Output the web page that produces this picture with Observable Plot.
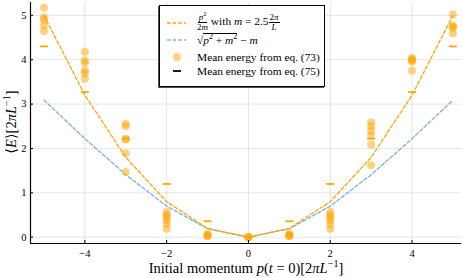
<!DOCTYPE html>
<html>
<head>
<meta charset="utf-8">
<script src="https://cdn.jsdelivr.net/npm/d3@7"></script>
<script src="https://cdn.jsdelivr.net/npm/@observablehq/plot@0.6"></script>
<style>
  body { margin: 0; background: #fff; }
  #wrap { position: relative; width: 463px; height: 278px; font-family: "Liberation Serif", "DejaVu Serif", serif; }
  #wrap svg { display: block; }
  .ylab { position: absolute; left: 11px; top: 122px; transform: translate(-50%, -50%) rotate(-90deg); font-size: 14.5px; white-space: nowrap; }
  .xlab { position: absolute; left: 246px; top: 268px; transform: translate(-50%, -50%); font-size: 14.5px; white-space: nowrap; }
  #legend { position: absolute; left: 159px; top: 5px; width: 166px; height: 82px; box-sizing: border-box; border: 1px solid #000; background: #fff; box-shadow: -1px 1px 0 #555; font-size: 11.4px; }
  .row { position: absolute; left: 0; display: flex; align-items: center; white-space: nowrap; }
  .row svg { margin-left: 7px; margin-right: 11px; }
  .frac { display: inline-flex; flex-direction: column; align-items: center; vertical-align: middle; font-size: 9px; line-height: 9px; }
  .frac .num { border-bottom: 0.7px solid #000; padding: 0 1px; }
  sup { font-size: 0.7em; line-height: 0; }
</style>
</head>
<body>
<div id="wrap"></div>
<script>
// ---- data ----
const momenta = [-5, -4, -3, -2, -1, 0, 1, 2, 3, 4, 5];
const nonRelEnergy = [5, 3.2, 1.8, 0.8, 0.2, 0, 0.2, 0.8, 1.8, 3.2, 5];
const relEnergy = [3.09, 2.22, 1.41, 0.70, 0.19, 0, 0.19, 0.70, 1.41, 2.22, 3.09];
const eq75Energy = [4.30, 3.27, 2.22, 1.20, 0.36, 0, 0.36, 1.20, 2.22, 3.27, 4.30];
const eq73Energy = [
  [5.17, 4.95, 4.90, 4.78, 4.65],
  [4.18, 3.98, 3.93, 3.76, 3.70, 3.57],
  [2.55, 2.50, 2.22, 2.20, 1.89, 1.47],
  [0.57, 0.50, 0.45, 0.38, 0.30, 0.19],
  [0.08, 0.05, 0.03, 0.02],
  [0.01, 0.0, 0.0],
  [0.08, 0.05, 0.03, 0.02],
  [0.57, 0.50, 0.45, 0.38, 0.30, 0.19],
  [2.59, 2.50, 2.40, 2.30, 2.09, 1.62],
  [4.04, 4.01, 3.98, 3.96, 3.75],
  [5.02, 4.77, 4.74, 4.72, 4.59]
];
const xTicks = [-4, -2, 0, 2, 4];
const yTicks = [0, 1, 2, 3, 4, 5];
const xDomain = [-5.33, 5.21];
const yDomain = [-0.142, 5.29];

const orange = "#FFA500";
const blue = "#7ab2dc";

const lineRows = momenta.map((p, i) => ({p, nonrel: nonRelEnergy[i], rel: relEnergy[i], eq75: eq75Energy[i]}));
const pointRows = momenta.flatMap((p, i) => eq73Energy[i].map(e => ({p, e})));

const dashSymbol = {
  draw(context, size) {
    const w = Math.sqrt(size) / 2;
    context.moveTo(-w, 0);
    context.lineTo(w, 0);
  }
};

const chart = Plot.plot({
  width: 463,
  height: 278,
  marginLeft: 30,
  marginRight: 2,
  marginTop: 2,
  marginBottom: 35,
  style: {fontFamily: "'Liberation Serif', 'DejaVu Serif', serif", fontSize: "10.5px", color: "#000", background: "#fff"},
  x: {domain: xDomain},
  y: {domain: yDomain},
  marks: [
    Plot.gridX(xTicks, {stroke: "#000", strokeOpacity: 0.1}),
    Plot.gridY(yTicks, {stroke: "#000", strokeOpacity: 0.1}),
    Plot.line(lineRows, {x: "p", y: "rel", stroke: blue, strokeWidth: 1.3, strokeDasharray: "3.5,2.2"}),
    Plot.line(lineRows, {x: "p", y: "nonrel", stroke: orange, strokeWidth: 1.3, strokeDasharray: "3.5,2.2"}),
    Plot.dot(pointRows, {x: "p", y: "e", r: 4, fill: orange, fillOpacity: 0.5, stroke: "none"}),
    Plot.dot(lineRows, {x: "p", y: "eq75", r: 4.5, symbol: dashSymbol, stroke: orange, strokeWidth: 1.8, fill: "none"}),
    Plot.ruleX([xDomain[0]], {stroke: "#000", strokeWidth: 1.2}),
    Plot.ruleY([yDomain[0]], {stroke: "#000", strokeWidth: 1.2}),
    Plot.axisX(xTicks, {tickSize: -3, tickPadding: 9, label: null, stroke: "#000"}),
    Plot.axisY(yTicks, {tickSize: -3, tickPadding: 7, label: null, stroke: "#000"})
  ]
});

const wrap = document.getElementById("wrap");
wrap.appendChild(chart);

const ylab = document.createElement("div");
ylab.className = "ylab";
ylab.innerHTML = "⟨<i>E</i>⟩[2<i>πL</i><sup>−1</sup>]";
wrap.appendChild(ylab);

const xlab = document.createElement("div");
xlab.className = "xlab";
xlab.innerHTML = "Initial momentum <i>p</i>(<i>t</i> = 0)[2<i>πL</i><sup>−1</sup>]";
wrap.appendChild(xlab);

const legend = document.createElement("div");
legend.id = "legend";
legend.innerHTML = `
  <div class="row" style="top:7px;">
    <svg width="19" height="6"><line x1="0" y1="3" x2="19" y2="3" stroke="${orange}" stroke-width="1.3" stroke-dasharray="3.5,2.2"/></svg>
    <span><span class="frac"><span class="num"><i>p</i><sup>2</sup></span><span>2<i>m</i></span></span> with <i>m</i> = 2.5<span class="frac"><span class="num">2<i>π</i></span><span><i>L</i></span></span></span>
  </div>
  <div class="row" style="top:28px;">
    <svg width="19" height="6"><line x1="0" y1="3" x2="19" y2="3" stroke="${blue}" stroke-width="1.3" stroke-dasharray="3.5,2.2"/></svg>
    <span>√<span style="border-top:0.7px solid #000"><i>p</i><sup>2</sup> + <i>m</i><sup>2</sup></span> − <i>m</i></span>
  </div>
  <div class="row" style="top:45px;">
    <svg width="19" height="10"><circle cx="10" cy="5" r="4" fill="${orange}" fill-opacity="0.5"/></svg>
    <span>Mean energy from eq. (73)</span>
  </div>
  <div class="row" style="top:59px;">
    <svg width="19" height="10"><line x1="6" y1="5" x2="14" y2="5" stroke="#000" stroke-width="1.8"/></svg>
    <span>Mean energy from eq. (75)</span>
  </div>
`;
wrap.appendChild(legend);
</script>
</body>
</html>
